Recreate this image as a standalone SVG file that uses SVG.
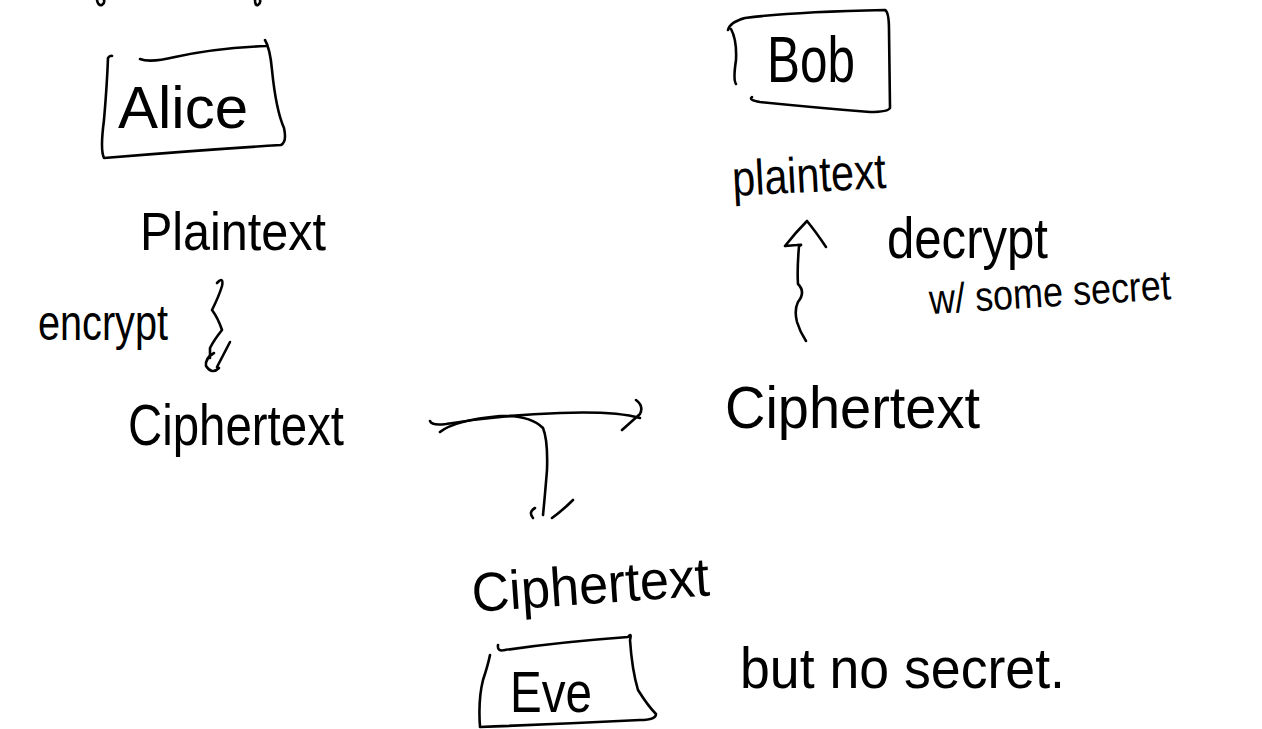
<svg xmlns="http://www.w3.org/2000/svg" width="1262" height="729" viewBox="0 0 1262 729">
  <style>
    .ink { fill: none; stroke: #000; stroke-width: 2.6; stroke-linecap: round; stroke-linejoin: round; }
    .hand { font-family: "Liberation Sans", "DejaVu Sans", sans-serif; fill: #000; }
  </style>
  <rect width="1262" height="729" fill="#fff"/>

  <!-- fragments of writing cut off at the top edge -->
  <g id="top-fragments">
    <path class="ink" d="M97 0 Q98 6 102 5 Q105 3 104 0"/>
    <path class="ink" d="M255 0 Q255 6 258 5 Q261 3 260 0"/>
  </g>

  <g id="alice">
    <path class="ink" d="M140 59 Q150 63 175 57 Q215 48 266 46 M265 40 Q270 48 272 70 Q276 110 284 128 Q287 142 281 145 Q200 150 104 158 Q100 150 104 120 Q107 85 108 58 Q110 55 112 56"/>
    <text class="hand" x="118" y="128" font-size="60" textLength="130" lengthAdjust="spacingAndGlyphs">Alice</text>
  </g>

  <g id="bob">
    <path class="ink" d="M728 30 Q730 22 745 18 Q790 12 885 10 Q889 12 889 30 L890 108 Q888 112 870 112 Q820 108 760 102 Q748 100 752 97 M731 29 Q737 40 736 60 Q733 80 736 84"/>
    <text class="hand" x="767" y="82" font-size="64" textLength="88" lengthAdjust="spacingAndGlyphs">Bob</text>
  </g>

  <g id="alice-plaintext">
    <text class="hand" x="140" y="250" font-size="54" textLength="186" lengthAdjust="spacingAndGlyphs">Plaintext</text>
  </g>

  <g id="encrypt-label">
    <text class="hand" x="38" y="340" font-size="50" textLength="130" lengthAdjust="spacingAndGlyphs">encrypt</text>
  </g>

  <g id="alice-ciphertext">
    <text class="hand" x="128" y="445" font-size="58" textLength="216" lengthAdjust="spacingAndGlyphs">Ciphertext</text>
  </g>

  <g id="bob-ciphertext">
    <text class="hand" x="725" y="428" font-size="60" textLength="255" lengthAdjust="spacingAndGlyphs">Ciphertext</text>
  </g>

  <g id="bob-plaintext">
    <text class="hand" x="733" y="196" font-size="50" textLength="154" lengthAdjust="spacingAndGlyphs" transform="rotate(-3 733 196)">plaintext</text>
  </g>

  <g id="decrypt-label">
    <text class="hand" x="887" y="258" font-size="58" textLength="161" lengthAdjust="spacingAndGlyphs">decrypt</text>
    <text class="hand" x="930" y="314" font-size="42" textLength="242" lengthAdjust="spacingAndGlyphs" transform="rotate(-3.5 930 314)">w/ some secret</text>
  </g>

  <g id="eve-ciphertext">
    <text class="hand" x="473" y="612" font-size="55" textLength="238" lengthAdjust="spacingAndGlyphs" transform="rotate(-4 473 612)">Ciphertext</text>
  </g>

  <g id="eve">
    <path class="ink" d="M498 645 Q497 652 505 650 Q560 642 628 637 Q632 632 630 640 Q632 670 638 690 Q648 706 656 714 Q656 720 640 720 Q560 724 480 727 Q478 700 483 680 Q488 665 490 655"/>
    <text class="hand" x="510" y="712" font-size="58" textLength="82" lengthAdjust="spacingAndGlyphs">Eve</text>
  </g>

  <g id="eve-note">
    <text class="hand" x="740" y="688" font-size="58" textLength="325" lengthAdjust="spacingAndGlyphs">but no secret.</text>
  </g>

  <g id="connectors">
    <!-- encrypt: squiggle down from Plaintext to Ciphertext -->
    <path class="ink" d="M217 283 Q224 276 222 286 Q219 296 212 310 Q218 318 222 330 Q214 340 210 348 L210 358 M214 353 Q205 358 206 366 Q212 375 219 368 M230 342 L217 367"/>
    <!-- decrypt: wavy shaft up to Plaintext -->
    <path class="ink" d="M806 341 Q800 332 797 322 Q794 310 798 302 Q806 292 798 284 Q797 270 799 246 Q804 244 797 245 L785 246 M785 246 Q796 232 807 221 Q816 232 826 247"/>
    <!-- send: Ciphertext to Ciphertext -->
    <path class="ink" d="M430 421 Q432 426 446 424 Q500 415 560 413 Q615 411 640 418 M636 400 Q644 406 640 414 L622 430"/>
    <!-- intercept: branch down towards Eve -->
    <path class="ink" d="M440 432 Q455 420 500 416 Q530 415 543 428 Q548 440 547 470 Q545 495 543 515 M535 508 Q528 512 533 518 M573 500 Q563 510 552 518"/>
  </g>
</svg>
